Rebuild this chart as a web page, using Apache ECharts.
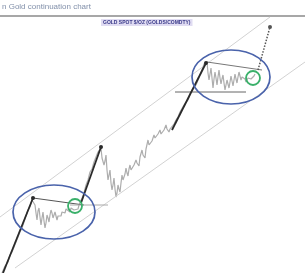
<!DOCTYPE html>
<html><head><meta charset="utf-8">
<script src="https://cdn.jsdelivr.net/npm/echarts@6/dist/echarts.min.js"></script>
<style>html,body{margin:0;padding:0;background:#fff}#c{width:305px;height:273px}</style>
</head><body><div id="c"></div>
<script>
// price path: [time, price]
const pricePath = [[2,0],[5,7],[8,11],[10,18],[12,21],[14,26],[16,28],[18,36],[20,41],[22,45],[24,51],[26,57],[28,63],[30,66],[32,73],
[34,72],[35,68],[36,60],[37,53],[38,62],[39,65],[40,56],[41,48],[42,55],[43,61],[44,52],[45,45],[46,50],[47,58],[48,55],[49,51],[50,58],[51,63],[52,60],[53,55],[54,58],[55,61],[56,57],[57,53],[58,57],[59,59],[60,55],[61,57],[62,61],[63,63],[64,59],[65,60],[66,64],[67,66],[68,62],[70,61],[71,65],[73,67],[74,63],[76,65],[78,64],[79,68],
[80,70],[82,75],[84,80],[86,88],[88,93],[90,101],[92,104],[94,111],[96,116],[98,121],[100,123],[101,125],
[102,115],[104,108],[105,112],[106,118],[107,103],[108,93],[109,98],[110,103],[111,90],[112,83],[113,88],[114,95],[115,84],[116,76],[117,80],[118,88],[119,84],[120,81],[121,90],[122,98],[123,93],[124,91],[125,99],[126,105],[127,100],[128,97],[129,104],[130,108],[131,103],[133,101],[134,108],[136,113],[137,110],[139,107],[140,116],[142,123],[143,118],[145,115],[146,124],[148,133],[149,128],[151,126],[152,132],[154,138],[155,135],[157,133],[158,139],[160,143],[161,139],[163,137],[164,143],[166,148],[167,144],[169,141],[170,144],[172,145],
[174,149],[176,153],[178,156],[180,161],[182,163],[184,168],[186,170],[188,173],[190,179],[192,183],[194,185],[196,188],[198,193],[200,198],[202,203],[204,209],
[207,211],[208,200],[209,193],[210,199],[211,205],[212,195],[213,185],[214,194],[215,201],[216,195],[217,188],[218,196],[219,203],[220,195],[221,189],[222,194],[223,198],[224,190],[225,183],[226,188],[227,193],[228,189],[229,185],[230,191],[231,197],[232,192],[233,187],[234,193],[235,199],[236,194],[237,190],[238,196],[239,201],[240,197],[241,193],[242,196],[243,198],[245,194],[246,191],[248,195],[249,197],[251,194],[252,193],[254,197],[255,199]];
const channelUpper = [[0,56],[270,256]];
const channelLower = [[15,5],[305,211]];
const headerRule = [[0,257],[305,257]];
const arrow1 = [[3,0],[33,75]];
const arrow2 = [[81,70],[101,126]];
const arrow3 = [[172,143],[206,210]];
const arrow4 = [[258,203],[270,246]];
const resistLow = [[33,75],[84,68]];
const supportLow = [[70,68],[108,68]];
const resistHigh = [[207,211],[262,203]];
const supportHigh = [[175,181],[246,181]];
const ellipses = [[54,61,41,27],[231,196,39,27]];
const greenCircles = [[75,67,7],[253,195,7]];
const titleText = 'n Gold continuation chart';
const subTitleText = 'GOLD SPOT $/OZ (GOLDS/COMDTY)';

const chart = echarts.init(document.getElementById('c'), null, {renderer:'canvas'});
function seg(data, color, width, type, dot){
  return {type:'line', data:data, silent:true, animation:false,
    lineStyle:{color:color,width:width,type:type||'solid'},
    symbol:'circle', showSymbol:!!dot,
    symbolSize:function(v,p){return dot && p.dataIndex===data.length-1?4:0;},
    itemStyle:{color:color}, z:5};
}
function ellipseSeries(data, color, width, isCircle){
  return {type:'custom', data:data, silent:true, animation:false, z:6,
    renderItem:function(params, api){
      const c = api.coord([api.value(0), api.value(1)]);
      const rx = api.size([api.value(2), 0])[0];
      const ry = isCircle ? rx : api.size([0, api.value(3)])[1];
      return {type:'ellipse', shape:{cx:c[0],cy:c[1],rx:rx,ry:ry},
        style:{fill:null, stroke:color, lineWidth:width}};
    }};
}
chart.setOption({
  animation:false,
  title:[{text:titleText,left:0,top:3,padding:[0,2],textStyle:{fontSize:8,fontWeight:'normal',color:'#8290aa',fontFamily:'Liberation Sans'}},
         {text:subTitleText,left:101,top:19,padding:[1,2],backgroundColor:'#e0dcf2',textStyle:{fontSize:5,fontWeight:'bold',color:'#3a3a8a',fontFamily:'Liberation Sans'}}],
  grid:{left:0,right:0,top:0,bottom:0},
  xAxis:{type:'value',min:0,max:305,show:false},
  yAxis:{type:'value',min:0,max:273,show:false},
  series:[
    seg(headerRule,'#8a8a8a',1.5),
    seg(channelUpper,'#d2d2d2',1),
    seg(channelLower,'#d2d2d2',1),
    {type:'line',data:pricePath,silent:true,animation:false,showSymbol:false,lineStyle:{color:'#adadad',width:1.2},z:3},
    seg(resistLow,'#555',1),
    seg(supportLow,'#aaa',1),
    seg(resistHigh,'#777',1),
    seg(supportHigh,'#666',1),
    seg(arrow1,'#2a2a2a',1.8,'solid',true),
    seg(arrow2,'#2a2a2a',1.8,'solid',true),
    seg(arrow3,'#2a2a2a',1.8,'solid',true),
    seg(arrow4,'#555',1.5,'dotted',true),
    ellipseSeries(ellipses,'#4a63ab',1.7,false),
    ellipseSeries(greenCircles,'#3ab06a',1.8,true)
  ]
});
</script></body></html>
